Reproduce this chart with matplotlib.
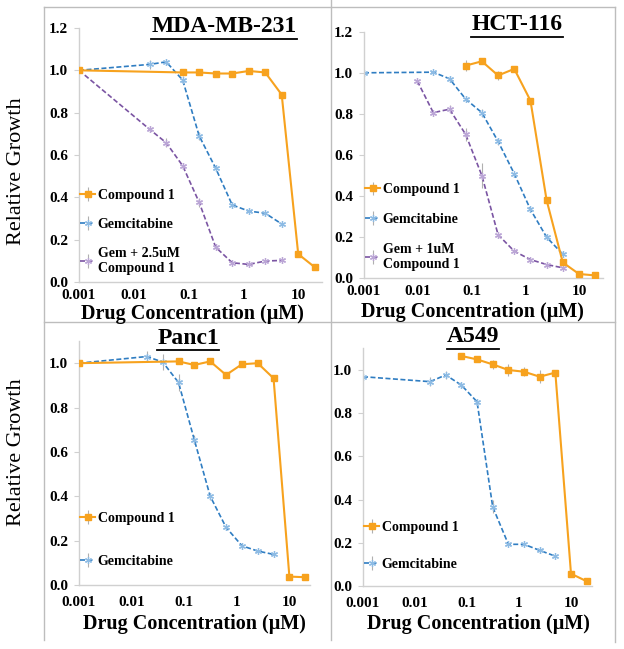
import matplotlib
matplotlib.use("Agg")
import matplotlib.pyplot as plt
from matplotlib.lines import Line2D

plt.rcParams['font.family'] = ['Liberation Serif', 'DejaVu Serif']
plt.rcParams['font.weight'] = 'bold'

W, H = 624, 649

# ---------------- data ----------------
dil_c1 = [0.078, 0.156, 0.3125, 0.625, 1.25, 2.5, 5, 10, 20]
dil_gem = [0.001, 0.0195, 0.039, 0.078, 0.156, 0.3125, 0.625, 1.25, 2.5, 5]

# MDA-MB-231
mda_c1_x = [0.001] + dil_c1
mda_c1_y = [1.0, 0.99, 0.99, 0.985, 0.985, 0.997, 0.99, 0.885, 0.132, 0.07]
mda_c1_e = [0, 0.01, 0.01, 0.01, 0.01, 0.01, 0.01, 0.01, 0.01, 0.01]
mda_gem_x = dil_gem
mda_gem_y = [1.0, 1.028, 1.04, 0.954, 0.69, 0.537, 0.364, 0.335, 0.325, 0.274]
mda_gem_e = [0, 0.02, 0.015, 0.02, 0.02, 0.01, 0.01, 0.01, 0.01, 0.01]
mda_combo_x = dil_gem
mda_combo_y = [1.0, 0.721, 0.658, 0.549, 0.376, 0.164, 0.091, 0.083, 0.099, 0.102]
mda_combo_e = [0, 0.01, 0.02, 0.015, 0.02, 0.01, 0.01, 0.01, 0.01, 0.01]

# HCT-116
hct_c1_x = dil_c1
hct_c1_y = [1.035, 1.056, 0.987, 1.019, 0.865, 0.38, 0.077, 0.021, 0.014]
hct_c1_e = [0.025, 0.015, 0.02, 0.01, 0.01, 0.01, 0.01, 0.005, 0.005]
hct_gem_x = dil_gem
hct_gem_y = [1.0, 1.003, 0.971, 0.872, 0.806, 0.666, 0.509, 0.335, 0.20, 0.117]
hct_gem_e = [0, 0.01, 0.01, 0.015, 0.02, 0.015, 0.01, 0.01, 0.01, 0.01]
hct_combo_x = [0.0098, 0.0195, 0.039, 0.078, 0.156, 0.3125, 0.625, 1.25, 2.5, 5]
hct_combo_y = [0.96, 0.806, 0.823, 0.70, 0.50, 0.212, 0.132, 0.091, 0.067, 0.051]
hct_combo_e = [0.01, 0.01, 0.02, 0.03, 0.06, 0.015, 0.01, 0.01, 0.01, 0.01]

# Panc1
panc_c1_x = [0.001] + dil_c1
panc_c1_y = [1.0, 1.008, 0.992, 1.008, 0.947, 0.995, 1.0, 0.932, 0.038, 0.035]
panc_c1_e = [0, 0.01, 0.01, 0.01, 0.01, 0.01, 0.01, 0.01, 0.005, 0.005]
panc_gem_x = dil_gem
panc_gem_y = [1.0, 1.03, 1.005, 0.913, 0.654, 0.40, 0.26, 0.177, 0.153, 0.138]
panc_gem_e = [0, 0.025, 0.035, 0.04, 0.02, 0.015, 0.01, 0.01, 0.01, 0.01]

# A549
a549_c1_x = dil_c1
a549_c1_y = [1.065, 1.049, 1.026, 1.0, 0.992, 0.969, 0.988, 0.057, 0.022]
a549_c1_e = [0.01, 0.01, 0.02, 0.03, 0.02, 0.03, 0.01, 0.005, 0.005]
a549_gem_x = dil_gem
a549_gem_y = [0.969, 0.946, 0.977, 0.930, 0.853, 0.366, 0.193, 0.193, 0.165, 0.138]
a549_gem_e = [0, 0.02, 0.02, 0.01, 0.01, 0.03, 0.01, 0.01, 0.01, 0.01]

yticks_12 = [0.0, 0.2, 0.4, 0.6, 0.8, 1.0, 1.2]
yticks_10 = [0.0, 0.2, 0.4, 0.6, 0.8, 1.0]
xticks = [0.001, 0.01, 0.1, 1, 10]
xtick_labels = ["0.001", "0.01", "0.1", "1", "10"]

# ---------------- styles ----------------
ORANGE = "#F7A21E"
BLUE = "#2F7DC2"
BLUE_M = "#8DBBE4"
PURPLE = "#7B55A3"
PURPLE_M = "#BBA6D6"
STAR = (6, 2, 0)


def fx(x):
    return x / W


def fy(y):
    return 1 - y / H


def add_ax(left, top, right, bottom):
    return fig.add_axes([fx(left), fy(bottom), (right - left) / W, (bottom - top) / H])


def style_ax(ax, xmax, ymax, yt, xpad):
    ax.set_xscale("log")
    ax.set_xlim(0.001, xmax)
    ax.set_ylim(0, ymax)
    ax.set_xticks(xticks)
    ax.set_xticklabels(xtick_labels)
    ax.minorticks_off()
    ax.set_yticks(yt)
    ax.set_yticklabels([f"{v:.1f}" for v in yt])
    for s in ["top", "right"]:
        ax.spines[s].set_visible(False)
    for s in ["left", "bottom"]:
        ax.spines[s].set_color("#D0D0D0")
        ax.spines[s].set_linewidth(1.0)
    ax.tick_params(axis="y", length=3.5, color="#D0D0D0", pad=4.5, labelsize=11)
    ax.tick_params(axis="x", length=0, pad=xpad, labelsize=11)
    ax.patch.set_alpha(0)


def c1(ax, x, y, e, label="Compound 1"):
    ax.errorbar(x, y, yerr=e, color=ORANGE, lw=1.5, marker="s", ms=5,
                mfc=ORANGE, mec=ORANGE, ecolor="#B0B0B0", elinewidth=0.8,
                capsize=0, label=label, zorder=3)


def gem(ax, x, y, e, color, mcolor, label):
    ax.errorbar(x, y, yerr=e, color=color, lw=1.2, ls=(0, (3, 1.5)), marker=STAR,
                ms=5, mec=mcolor, mfc=mcolor, mew=0.9, ecolor="#B0B0B0",
                elinewidth=0.8, capsize=0, label=label, zorder=2)


def legend(ax, ytop, spacing):
    ax.legend(loc="upper left", bbox_to_anchor=(0.005, ytop), frameon=False,
              fontsize=10, handlelength=1.1, handletextpad=0.15,
              labelspacing=spacing, borderaxespad=0, borderpad=0)


fig = plt.figure(figsize=(W / 100, H / 100), dpi=100)

# panel borders
for (x0, y0, x1, y1) in [(44, 7, 615, 7), (44, 7, 44, 640), (615, 7, 615, 642),
                         (331, 0, 331, 640), (44, 322, 615, 322)]:
    fig.add_artist(Line2D([fx(x0), fx(x1)], [fy(y0), fy(y1)], color="#BDBDBD", lw=1))

# MDA-MB-231
ax1 = add_ax(79, 28, 322, 282)
c1(ax1, mda_c1_x, mda_c1_y, mda_c1_e)
gem(ax1, mda_gem_x, mda_gem_y, mda_gem_e, BLUE, BLUE_M, "Gemcitabine")
gem(ax1, mda_combo_x, mda_combo_y, mda_combo_e, PURPLE, PURPLE_M, "Gem + 2.5uM\nCompound 1")
style_ax(ax1, 10 ** 1.434, 1.2, yticks_12, 5)
legend(ax1, 0.365, 1.15)

# HCT-116
ax2 = add_ax(364, 31.7, 603, 278.3)
c1(ax2, hct_c1_x, hct_c1_y, hct_c1_e)
gem(ax2, hct_gem_x, hct_gem_y, hct_gem_e, BLUE, BLUE_M, "Gemcitabine")
gem(ax2, hct_combo_x, hct_combo_y, hct_combo_e, PURPLE, PURPLE_M, "Gem + 1uM\nCompound 1")
style_ax(ax2, 10 ** 1.447, 1.2, yticks_12, 5)
legend(ax2, 0.385, 1.2)

# Panc1
ax3 = add_ax(79, 341, 310, 585)
c1(ax3, panc_c1_x, panc_c1_y, panc_c1_e)
gem(ax3, panc_gem_x, panc_gem_y, panc_gem_e, BLUE, BLUE_M, "Gemcitabine")
style_ax(ax3, 10 ** 1.392, 1.1, yticks_10, 8)
legend(ax3, 0.30, 2.15)

# A549
ax4 = add_ax(363, 348.4, 592, 586)
c1(ax4, a549_c1_x, a549_c1_y, a549_c1_e)
gem(ax4, a549_gem_x, a549_gem_y, a549_gem_e, BLUE, BLUE_M, "Gemcitabine")
style_ax(ax4, 10 ** 1.404, 1.1, yticks_10, 8)
legend(ax4, 0.275, 1.75)

# titles (underlined)
titles = [("MDA-MB-231", 224, 27), ("HCT-116", 517, 25), ("Panc1", 188, 338), ("A549", 473, 337)]
title_artists = []
for txt, x, y in titles:
    t = fig.text(fx(x), fy(y), txt, ha="center", va="center", fontsize=17, fontweight="bold")
    title_artists.append(t)

# axis labels
for y in [171, 452]:
    fig.text(fx(17), fy(y), "Relative Growth", rotation=90, ha="center", va="center",
             fontsize=16, fontweight="normal")
for x, y in [(192, 314), (472, 312), (194, 624), (478, 624)]:
    fig.text(fx(x), fy(y), "Drug Concentration (\u03bcM)", ha="center", va="center",
             fontsize=14.5, fontweight="bold")

fig.canvas.draw()
r = fig.canvas.get_renderer()
for t in title_artists:
    bb = t.get_window_extent(r)
    fig.add_artist(Line2D([bb.x0 / W, bb.x1 / W], [(bb.y0 - 1) / H, (bb.y0 - 1) / H],
                          color="black", lw=1.3))

fig.savefig("out.png", dpi=100)
